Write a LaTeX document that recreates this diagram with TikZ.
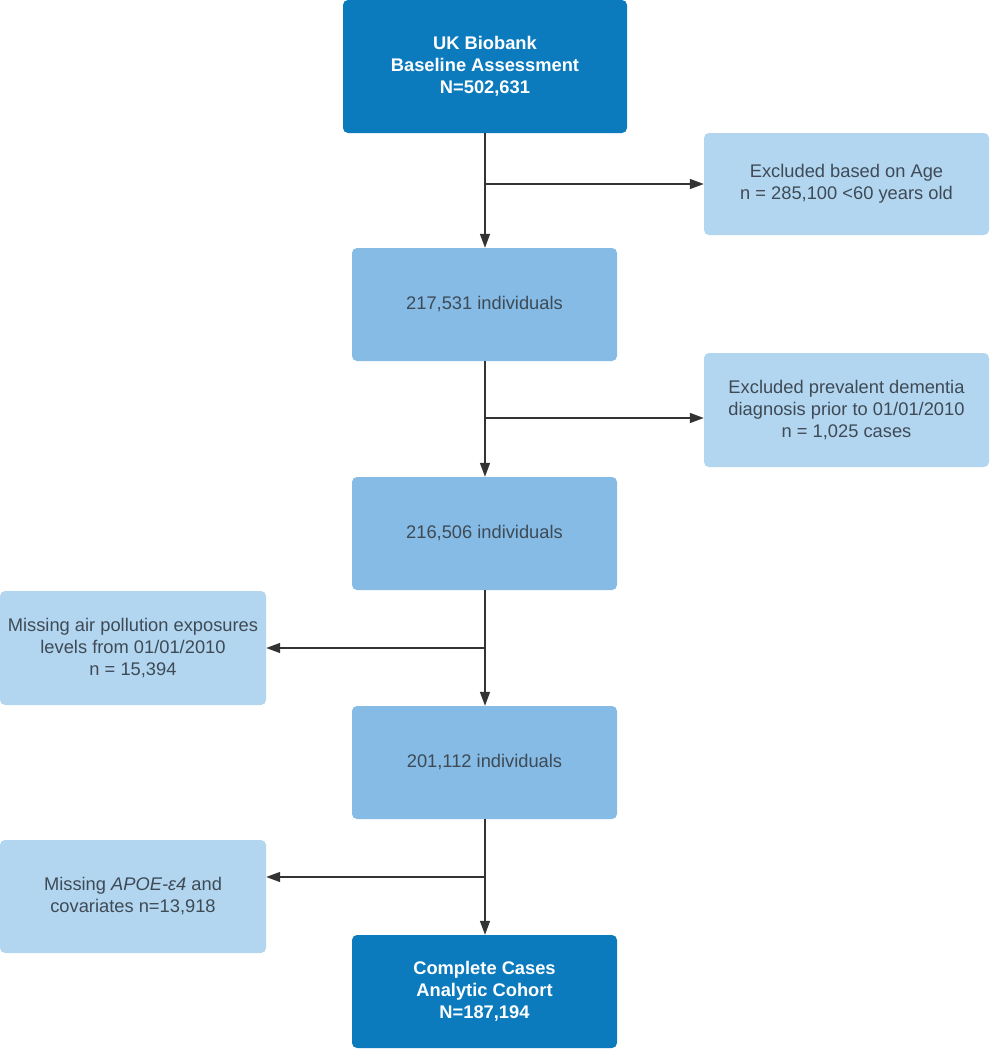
\documentclass[tikz,border=0pt]{standalone}
\usepackage{fontspec}
\setmainfont{Liberation Sans}
\usetikzlibrary{arrows.meta}
\definecolor{darkbox}{HTML}{0C7BBE}
\definecolor{midbox}{HTML}{85BBE5}
\definecolor{lightbox}{HTML}{B3D6F0}
\definecolor{txtgray}{HTML}{3E4A55}
\definecolor{linegray}{HTML}{333333}
\begin{document}
\begin{tikzpicture}[x=1pt,y=1pt,
  boxbase/.style={rectangle, rounded corners=5pt, align=center, inner sep=0pt,
    font=\fontsize{18.3}{22}\selectfont},
  darkstep/.style={boxbase, fill=darkbox, text=white, font=\fontsize{18.3}{22}\selectfont\bfseries},
  midstep/.style={boxbase, fill=midbox, text=txtgray, minimum width=265pt, minimum height=113pt},
  excl/.style={boxbase, fill=lightbox, text=txtgray},
  conn/.style={draw=linegray, line width=1.5pt, -{Triangle[length=14pt,width=10pt]}}
]
\useasboundingbox (0,0) rectangle (989,-1050);

\node[darkstep, minimum width=284pt, minimum height=133pt] (top) at (485,-66.5)
  {UK Biobank\\Baseline Assessment\\N=502,631};
\node[excl, minimum width=285pt, minimum height=102pt] (ex1) at (846.5,-184)
  {Excluded based on Age\\n = 285,100 <60 years old};
\node[midstep] (n1) at (484.5,-304.5) {217,531 individuals};
\node[excl, minimum width=285pt, minimum height=114pt] (ex2) at (846.5,-410)
  {Excluded prevalent dementia\\diagnosis prior to 01/01/2010\\n = 1,025 cases};
\node[midstep] (n2) at (484.5,-533.5) {216,506 individuals};
\node[excl, minimum width=266pt, minimum height=114pt] (ex3) at (133,-648)
  {Missing air pollution exposures\\levels from 01/01/2010\\n = 15,394};
\node[midstep] (n3) at (484.5,-762.5) {201,112 individuals};
\node[excl, minimum width=266pt, minimum height=113pt] (ex4) at (133,-896.5)
  {Missing \textit{APOE-ε4} and\\covariates n=13,918};
\node[darkstep, minimum width=265pt, minimum height=113pt] (n4) at (484.5,-991.5)
  {Complete Cases\\Analytic Cohort\\N=187,194};

\coordinate (b1) at (485,-184);
\coordinate (b2) at (485,-418);
\coordinate (b3) at (485,-648);
\coordinate (b4) at (485,-877);

\draw[conn] (top.south -| b1) -- (n1.north -| b1);
\draw[conn] (b1) -- (ex1.west |- b1);
\draw[conn] (n1.south -| b2) -- (n2.north -| b2);
\draw[conn] (b2) -- (ex2.west |- b2);
\draw[conn] (n2.south -| b3) -- (n3.north -| b3);
\draw[conn] (b3) -- (ex3.east |- b3);
\draw[conn] (n3.south -| b4) -- (n4.north -| b4);
\draw[conn] (b4) -- (ex4.east |- b4);
\end{tikzpicture}
\end{document}
